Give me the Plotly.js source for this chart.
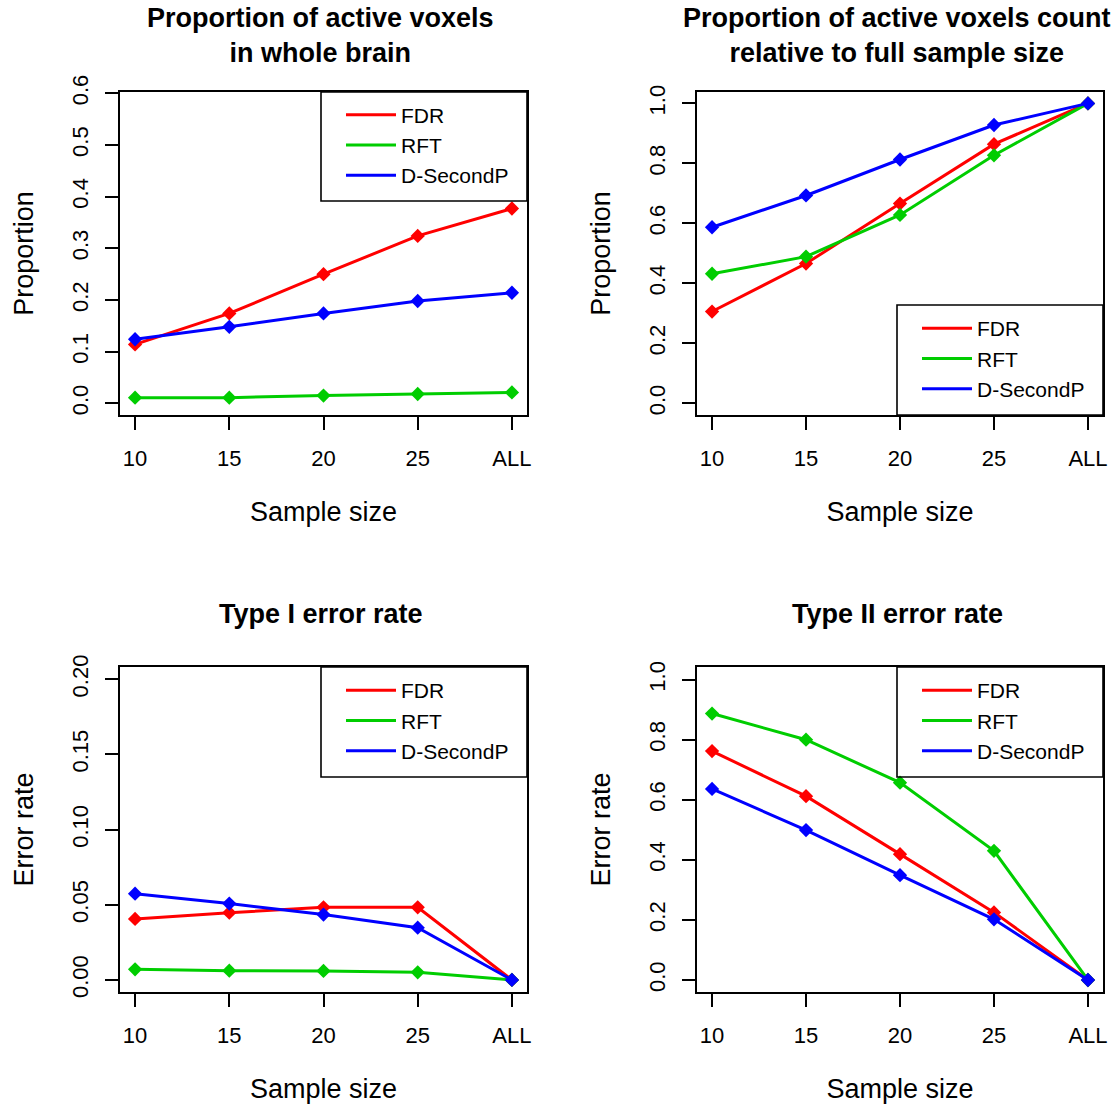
<!DOCTYPE html>
<html>
<head>
<meta charset="utf-8">
<script src="https://cdn.plot.ly/plotly-3.0.1.min.js"></script>
<style>html,body{margin:0;padding:0;background:#fff;} #chart{width:1117px;height:1105px;}</style>
</head>
<body>
<div id="chart"></div>
<script>
// ---- data ----
const sampleSizes = ["10", "15", "20", "25", "ALL"];
const seriesNames = ["FDR", "RFT", "D-SecondP"];

// Panel 1: proportion of active voxels in whole brain
const wholeFDR = [0.114, 0.174, 0.250, 0.324, 0.377];
const wholeRFT = [0.011, 0.011, 0.015, 0.018, 0.021];
const wholeDSP = [0.124, 0.148, 0.174, 0.198, 0.214];

// Panel 2: proportion relative to full sample size
const relFDR = [0.306, 0.466, 0.666, 0.864, 1.0];
const relRFT = [0.432, 0.489, 0.628, 0.827, 1.0];
const relDSP = [0.587, 0.693, 0.813, 0.928, 1.0];

// Panel 3: Type I error rate
const t1FDR = [0.0406, 0.0448, 0.0483, 0.0483, 0.0];
const t1RFT = [0.0071, 0.0062, 0.0060, 0.0051, 0.0];
const t1DSP = [0.0574, 0.0508, 0.0435, 0.0348, 0.0];

// Panel 4: Type II error rate
const t2FDR = [0.762, 0.612, 0.419, 0.225, 0.0];
const t2RFT = [0.887, 0.800, 0.657, 0.430, 0.0];
const t2DSP = [0.636, 0.499, 0.349, 0.202, 0.0];

const titles = [
  "Proportion of active voxels<br>in whole brain",
  "Proportion of active voxels count<br>relative to full sample size",
  "Type I error rate",
  "Type II error rate"
];
const yTitles = ["Proportion", "Proportion", "Error rate", "Error rate"];
const xTitle = "Sample size";

// ---- styling / layout ----
const W = 1117, H = 1105;
const colors = ["#FF0000", "#00CD00", "#0000FF"];
const FONT = "Liberation Sans, Arial, sans-serif";
const px = v => v / W;
const py = v => 1 - v / H;

const panels = [
  {data: [wholeFDR, wholeRFT, wholeDSP], x: [120, 527], y: [92, 415], range: [-0.0226, 0.6025], ticks: [0, 0.1, 0.2, 0.3, 0.4, 0.5, 0.6], fmt: ".1f", leg: [321, 92, 527, 201]},
  {data: [relFDR, relRFT, relDSP], x: [697, 1103], y: [92, 415], range: [-0.039, 1.038], ticks: [0, 0.2, 0.4, 0.6, 0.8, 1.0], fmt: ".1f", leg: [897, 305, 1103, 415]},
  {data: [t1FDR, t1RFT, t1DSP], x: [120, 527], y: [667, 992], range: [-0.008, 0.2082], ticks: [0, 0.05, 0.1, 0.15, 0.2], fmt: ".2f", leg: [321, 667, 527, 777]},
  {data: [t2FDR, t2RFT, t2DSP], x: [697, 1103], y: [667, 992], range: [-0.04, 1.042], ticks: [0, 0.2, 0.4, 0.6, 0.8, 1.0], fmt: ".1f", leg: [897, 667, 1103, 777]}
];

const traces = [];
const layout = {
  width: W, height: H,
  margin: {l: 0, r: 0, t: 0, b: 0},
  paper_bgcolor: "#fff", plot_bgcolor: "#fff",
  font: {family: FONT, color: "#000", size: 22},
  showlegend: true,
  annotations: [], shapes: []
};

panels.forEach((p, i) => {
  const n = i + 1;
  const xa = n === 1 ? "x" : "x" + n;
  const ya = n === 1 ? "y" : "y" + n;
  const legName = n === 1 ? "legend" : "legend" + n;
  p.data.forEach((vals, k) => {
    // line (shown in legend)
    traces.push({
      type: "scatter", mode: "lines",
      x: sampleSizes, y: vals, name: seriesNames[k],
      xaxis: xa, yaxis: ya, legend: legName,
      line: {color: colors[k], width: 3},
      hoverinfo: "skip"
    });
    // point markers (not in legend)
    traces.push({
      type: "scatter", mode: "markers",
      x: sampleSizes, y: vals, name: seriesNames[k],
      xaxis: xa, yaxis: ya, legend: legName, showlegend: false,
      marker: {symbol: "diamond", size: 11, color: colors[k]},
      hoverinfo: "x+y+name"
    });
  });
  const axCommon = {
    showline: true, mirror: true, linecolor: "#000", linewidth: 1.6,
    ticks: "outside", ticklen: 13, tickwidth: 1.6, tickcolor: "#000",
    showgrid: false, zeroline: false, fixedrange: true,
    tickfont: {family: FONT, size: 22, color: "#000"}
  };
  layout["xaxis" + (n === 1 ? "" : n)] = Object.assign({}, axCommon, {
    domain: [px(p.x[0]), px(p.x[1])], anchor: ya,
    type: "category", range: [-0.16, 4.16],
    ticklabelstandoff: 10,
    title: {text: xTitle, font: {family: FONT, size: 27, color: "#000"}, standoff: 32}
  });
  layout["yaxis" + (n === 1 ? "" : n)] = Object.assign({}, axCommon, {
    domain: [py(p.y[1]), py(p.y[0])], anchor: xa,
    range: p.range, tickvals: p.ticks, tickformat: p.fmt, tickangle: -90,
    ticklabelstandoff: 8,
    title: {text: yTitles[i], font: {family: FONT, size: 27, color: "#000"}, standoff: 27}
  });
  // legend
  const boxCenter = (p.leg[1] + p.leg[3]) / 2;
  layout[legName] = {
    x: px(p.leg[0] + 20), xanchor: "left",
    y: py(boxCenter - 52), yanchor: "top",
    bgcolor: "rgba(0,0,0,0)", borderwidth: 0,
    itemwidth: 50, itemclick: false, itemdoubleclick: false,
    font: {family: FONT, size: 21, color: "#000"}
  };
  layout.shapes.push({
    type: "rect", xref: "paper", yref: "paper",
    x0: px(p.leg[0]), x1: px(p.leg[2]), y0: py(p.leg[3]), y1: py(p.leg[1]),
    line: {color: "#000", width: 1.6}, fillcolor: "rgba(0,0,0,0)"
  });
  // title
  const cx = (p.x[0] + p.x[1]) / 2;
  const ty = i < 2 ? 36 : 614;
  layout.annotations.push({
    text: "<b>" + titles[i] + "</b>", xref: "paper", yref: "paper",
    x: px(cx - 3), y: py(ty), xanchor: "center", yanchor: "middle",
    showarrow: false, font: {family: FONT, size: 27, color: "#000"}
  });
});

Plotly.newPlot("chart", traces, layout, {displayModeBar: false});
</script>
</body>
</html>
